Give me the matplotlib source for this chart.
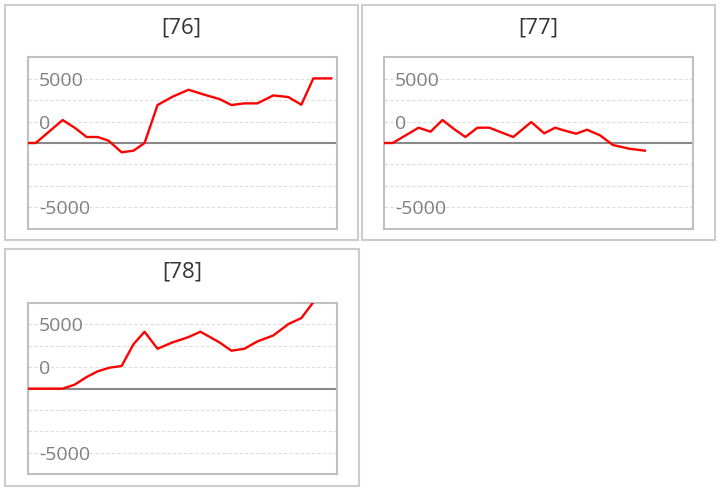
import matplotlib
matplotlib.use("Agg")
import matplotlib.pyplot as plt
from matplotlib.patches import Rectangle

# cumulative result per account, x = day index
titles = ["[76]", "[77]", "[78]"]

days_76 = [0, 8, 35, 47, 59, 70, 81, 94, 106, 117, 130, 145, 161, 177, 192, 204, 217, 230, 246, 261, 274, 286, 304]
pnl_76 = [0, 0, 2680, 1785, 700, 700, 270, -1085, -895, 0, 4430, 5400, 6215, 5630, 5130, 4430, 4625, 4625, 5555, 5360, 4465, 7540, 7540]

days_77 = [0, 9, 35, 47, 59, 71, 82, 94, 106, 117, 130, 148, 161, 172, 182, 193, 204, 217, 230, 246, 262]
pnl_77 = [0, 0, 1785, 1320, 2680, 1590, 700, 1785, 1785, 1280, 700, 2450, 1130, 1785, 1435, 1085, 1550, 895, -235, -660, -895]

days_78 = [0, 8, 35, 47, 59, 70, 82, 94, 106, 117, 130, 145, 161, 173, 192, 204, 217, 230, 246, 261, 274, 286]
pnl_78 = [0, 0, 0, 466, 1360, 2020, 2450, 2640, 5205, 6645, 4660, 5400, 6020, 6645, 5400, 4430, 4660, 5515, 6215, 7540, 8240, 10100]

grid_vals = [7500, 5000, 2500, -2500, -5000, -7500]
grid_labels = ["5000", "", "0", "", "", "-5000"]

plt.rcParams['font.family'] = ['Open Sans', 'DejaVu Sans']

W, H = 721, 491
fig = plt.figure(figsize=(W / 100, H / 100), dpi=100)

# pixel boxes: (panel left, top, right, bottom), (axes left, top, right, bottom)
layout = [
    ((5, 5, 358, 240.5), (27.7, 57.3, 337.3, 228.7)),
    ((362, 5, 715, 240.5), (383.7, 57.3, 692.7, 228.7)),
    ((5, 249, 358.5, 486), (27.7, 303, 337.3, 474.3)),
]
series = [(days_76, pnl_76), (days_77, pnl_77), (days_78, pnl_78)]

for title, (box, ax_box), (xs, ys) in zip(titles, layout, series):
    l, t, r, b = box
    fig.patches.append(Rectangle((l / W, 1 - b / H), (r - l) / W, (b - t) / H,
                                 transform=fig.transFigure, fill=False,
                                 edgecolor="#cccccc", linewidth=1.5))
    fig.text((l + r) / 2 / W, 1 - (t + 23) / H, title, ha="center", va="center",
             fontsize=16, color="#333333")

    al, at, ar, ab = ax_box
    ax = fig.add_axes([al / W, 1 - ab / H, (ar - al) / W, (ab - at) / H])
    ax.set_xlim(0, 310)
    ax.set_ylim(-10000, 10000)
    ax.set_yticks(grid_vals, grid_labels)
    ax.set_xticks([])
    ax.grid(axis="y", color="#dddddd", linestyle=(0, (3, 2)), linewidth=0.8)
    ax.axhline(0, color="#888888", linewidth=1.5, zorder=2)
    ax.tick_params(axis="y", length=0, pad=-8, labelsize=14, labelcolor="#808080")
    for lab in ax.get_yticklabels():
        lab.set_ha("left")
    for sp in ax.spines.values():
        sp.set_color("#c0c0c0")
        sp.set_linewidth(1.5)
    ax.plot(xs, ys, color="#ff0000", linewidth=1.7, zorder=3)

fig.savefig("out.png", dpi=100)
